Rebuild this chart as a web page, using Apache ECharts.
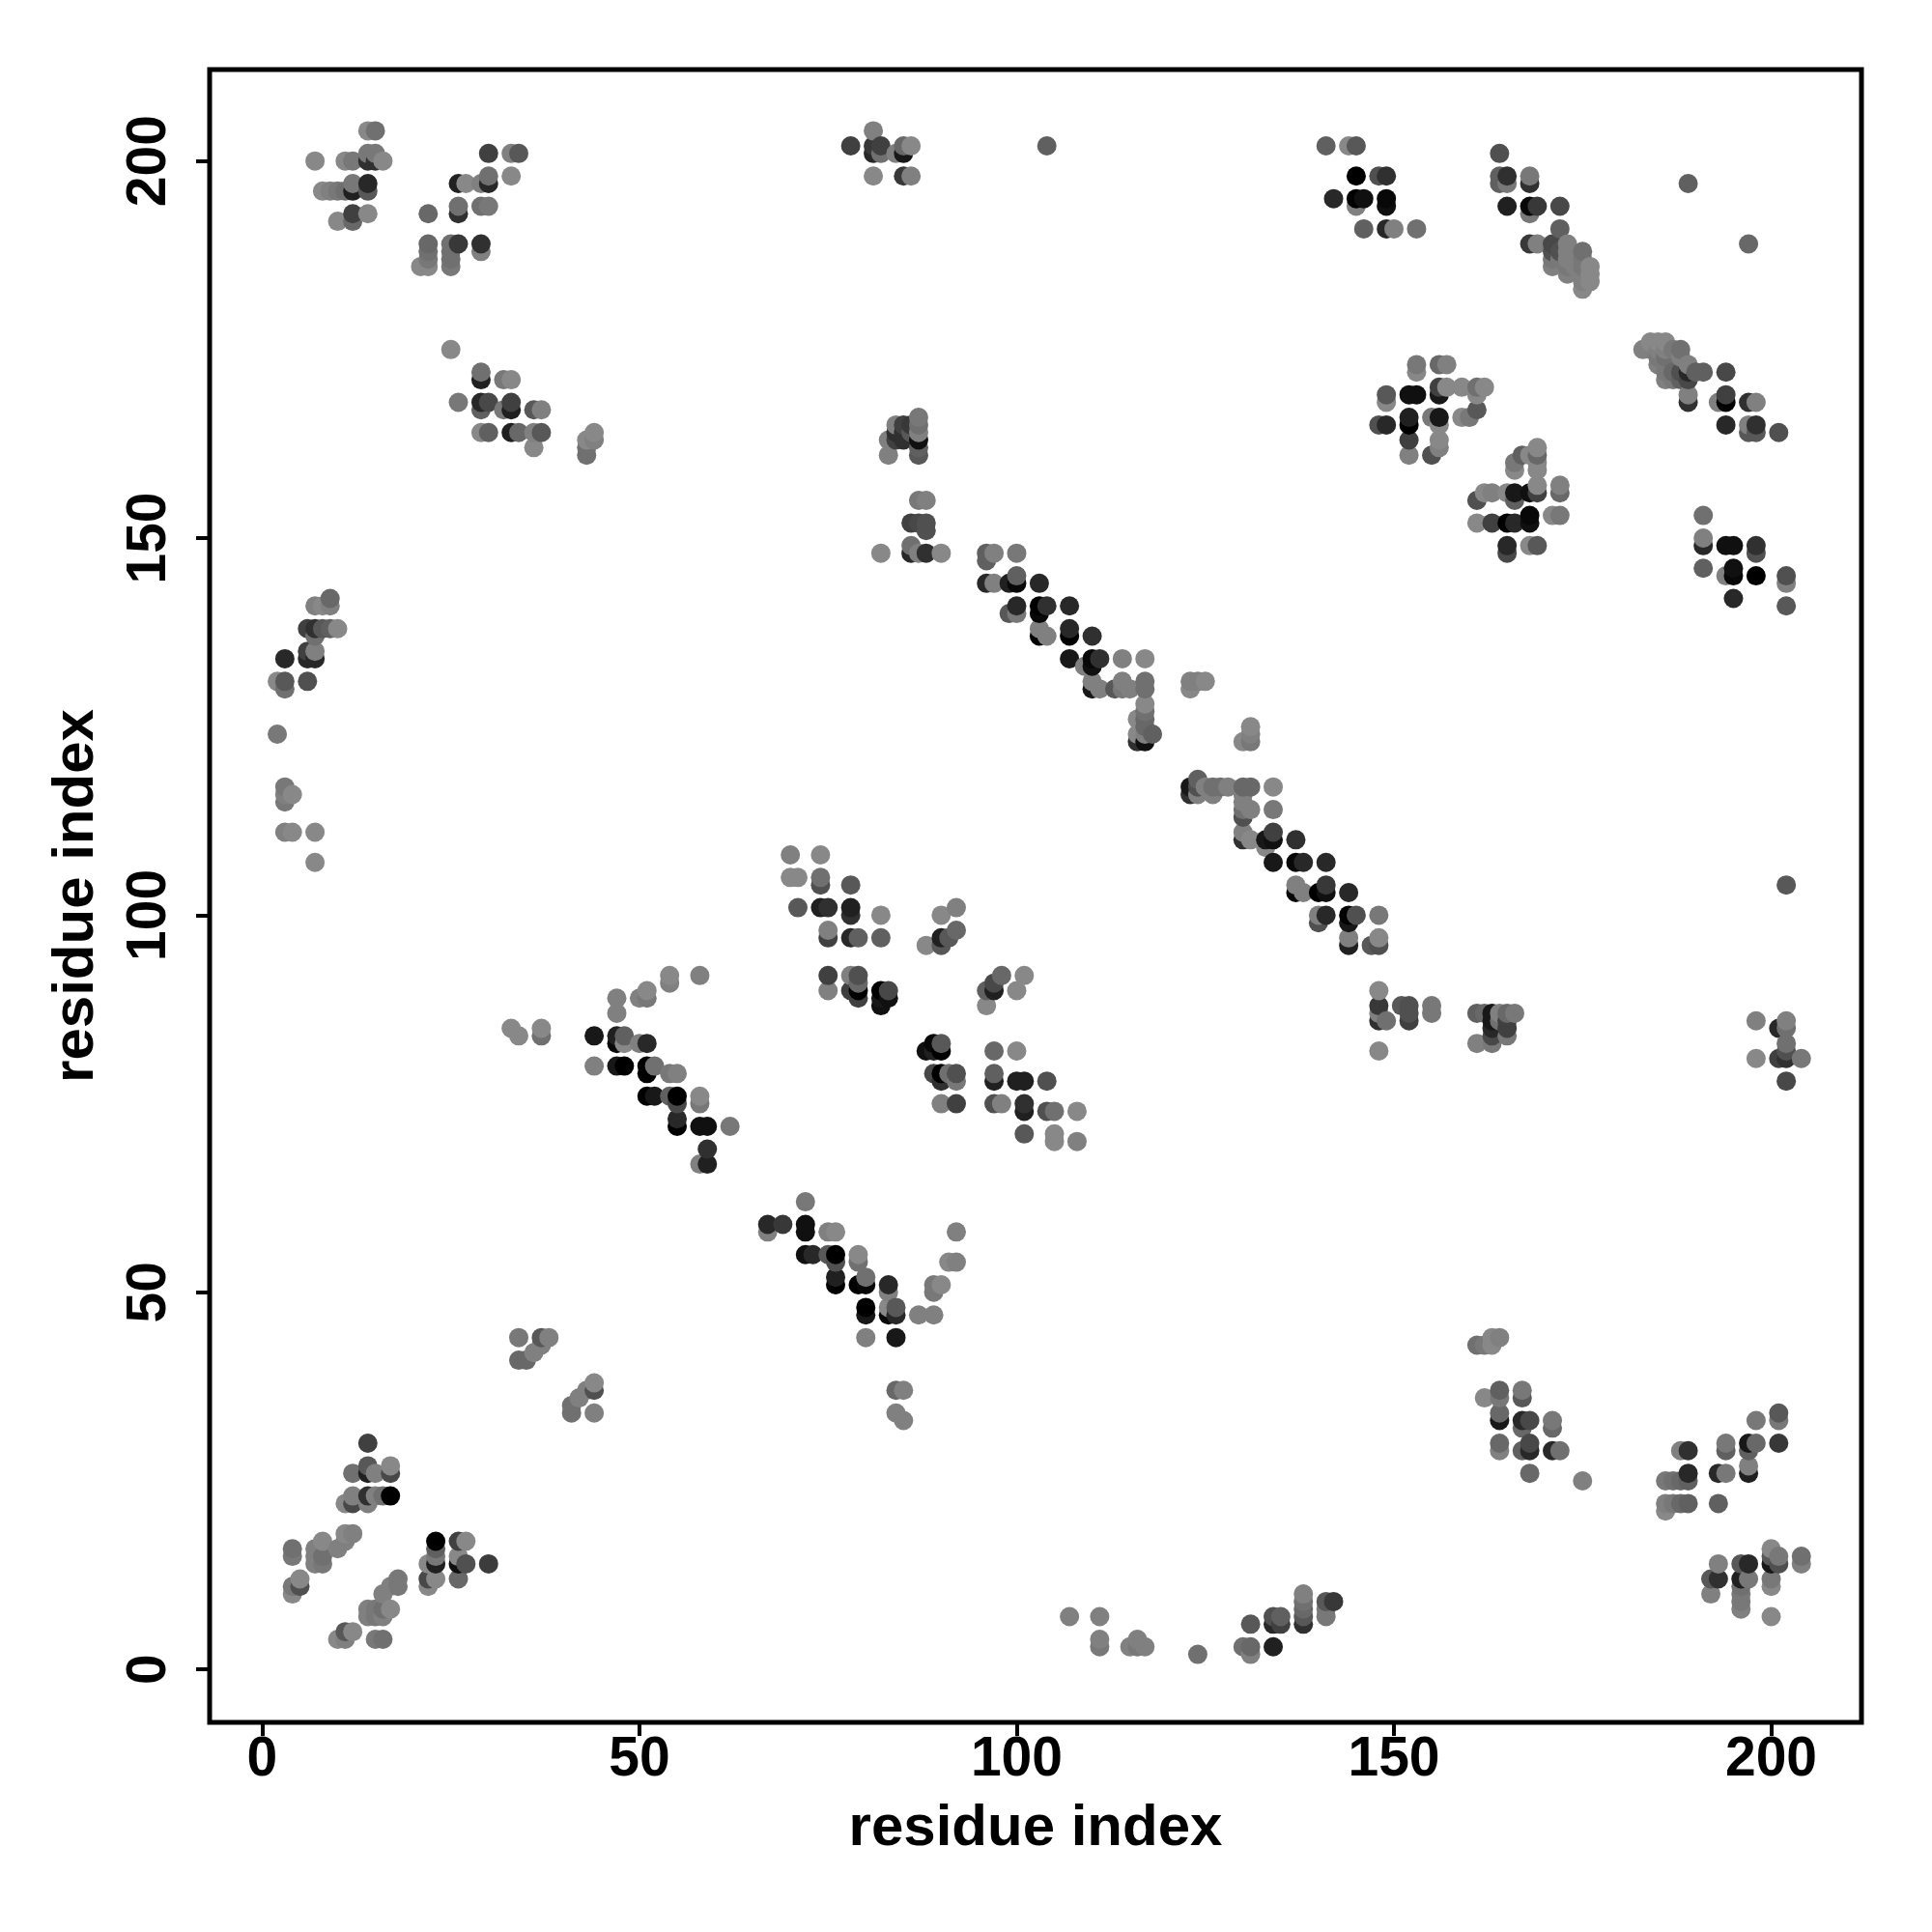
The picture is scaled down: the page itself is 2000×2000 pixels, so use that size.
<!DOCTYPE html>
<html><head><meta charset="utf-8">
<style>html,body{margin:0;padding:0;background:#fff}#c{width:2000px;height:2000px}</style>
<script src="https://cdn.jsdelivr.net/npm/echarts@6/dist/echarts.min.js"></script></head>
<body><div id="c"></div>
<script>
const xTickLabels=[0,50,100,150,200];
const yTickLabels=[0,50,100,150,200];
const xTitle="residue index", yTitle="residue index";
// each entry: [residue x, residue y, grey level]
const bottomLeft=[[14,30,0x40],[14,27,0x58],[12,26,0x70],[14,26,0x20],[15,26,0x80],[17,27,0x88],[17,26,0x48],[12,23,0x80],[12,22,0x48],[11,22,0x88],[14,23,0x30],[14,22,0x80],[15,23,0x80],[16,23,0x70],[17,23,0x00],
[4,16,0x70],[4,15,0x78],[7,16,0x80],[7,15,0x80],[7,14,0x80],[8,17,0x88],[8,15,0x70],[8,14,0x78],[10,16,0x80],[11,18,0x88],[11,17,0x80],[12,18,0x80],[4,10,0x88],[4,11,0x78],[5,11,0x50],[5,12,0x88],
[18,12,0x78],[18,11,0x78],[17,11,0x80],[16,10,0x80],[17,8,0x88],[16,8,0x70],[16,7,0x80],[15,8,0x78],[15,7,0x78],[14,8,0x80],[14,7,0x80],[10,4,0x88],[11,4,0x80],[11,5,0x58],[12,5,0x88],[15,4,0x78],[16,4,0x70],
[23,17,0x00],[23,16,0x60],[23,15,0x78],[23,14,0x20],[22,14,0x88],[22,12,0x48],[22,11,0x88],[23,12,0x88],[26,17,0x40],[27,17,0x88],[26,15,0x88],[26,14,0x10],[27,14,0x50],[30,14,0x3c],[26,12,0x68]];
const topLeft=[[14,204,0x88],[15,204,0x70],[7,200,0x88],[11,200,0x88],[12,200,0x78],[14,201,0x78],[14,200,0x30],[15,201,0x78],[15,200,0x30],[16,200,0x88],[8,196,0x88],[9,196,0x80],[10,196,0x78],[11,196,0x70],[12,196,0x20],[12,197,0x78],[14,197,0x28],[14,196,0x58],[10,192,0x88],[12,193,0x40],[12,192,0x68],[14,193,0x88],
[30,201,0x40],[33,201,0x80],[34,201,0x58],[30,198,0x70],[30,197,0x28],[33,198,0x88],[26,197,0x20],[27,197,0x88],[29,197,0x80],[26,194,0x70],[26,193,0x30],[22,193,0x68],[29,194,0x70],[30,194,0x78],[22,189,0x68],[22,188,0x70],[22,187,0x78],[22,186,0x88],[21,186,0x88],[25,189,0x70],[25,188,0x70],[25,187,0x70],[25,186,0x78],[26,189,0x38],[29,189,0x30],[29,188,0x80],
[25,175,0x88],[29,172,0x70],[29,171,0x20],[32,171,0x78],[33,171,0x88],[26,168,0x78],[29,168,0x28],[29,167,0x60],[30,168,0x48],[33,168,0x40],[33,167,0x20],[32,167,0x78],[36,167,0x58],[37,167,0x80],[29,164,0x88],[30,164,0x60],[33,164,0x20],[34,164,0x68],[36,164,0x80],[37,164,0x58],[36,162,0x88],[44,164,0x88],[44,163,0x80],[43,163,0x88],[43,162,0x70],[43,161,0x70]];
const midLeft=[[9,142,0x68],[7,141,0x80],[8,141,0x88],[9,141,0x80],[6,138,0x40],[7,138,0x30],[8,138,0x58],[9,138,0x60],[10,138,0x88],[7,137,0x70],[6,135,0x40],[7,135,0x80],[6,134,0x28],[7,134,0x28],[3,134,0x28],[2,131,0x88],[3,131,0x58],[3,130,0x70],[6,131,0x50],[2,124,0x78],[3,117,0x78],[3,116,0x80],[3,115,0x78],[4,116,0x88],[3,111,0x80],[4,111,0x88],[7,111,0x88],[7,107,0x88]];
const strandA=[[54,92,0x88],[54,91,0x80],[58,92,0x80],[51,90,0x88],[51,89,0x78],[50,89,0x80],[47,89,0x80],[47,87,0x80],[33,85,0x88],[34,84,0x88],[37,85,0x88],[37,84,0x70],[44,84,0x18],[47,84,0x20],[47,83,0x08],[48,84,0x60],[48,83,0x88],[50,83,0x80],[51,83,0x28],[44,80,0x80],[47,80,0x18],[48,80,0x00],[51,80,0x00],[51,79,0x00],[52,80,0x70],[54,79,0x78],[55,79,0x80],[51,76,0x00],[52,76,0x18],[54,76,0x60],[55,76,0x00],[55,75,0x48],[58,76,0x88],[58,75,0x78],[55,73,0x28],[55,72,0x00],[58,72,0x10],[59,72,0x10],[62,72,0x78],[59,69,0x30],[58,67,0x80],[59,67,0x20],
[34,44,0x78],[37,44,0x58],[38,44,0x80],[37,43,0x80],[36,42,0x80],[34,41,0x68],[35,41,0x68],[44,38,0x88],[44,37,0x50],[43,37,0x80],[42,36,0x80],[41,35,0x70],[41,34,0x70],[44,34,0x80]];
const centerUpper=[[70,108,0x80],[74,108,0x88],[70,105,0x88],[71,105,0x88],[74,105,0x70],[74,104,0x50],[78,104,0x58],[71,101,0x58],[74,101,0x20],[75,101,0x30],[78,101,0x20],[78,100,0x30],[82,100,0x88],[75,98,0x80],[75,97,0x40],[78,97,0x28],[79,97,0x60],[82,97,0x60],[90,100,0x88],[92,101,0x80],[92,98,0x68],[90,97,0x20],[91,97,0x58],[88,96,0x88],[90,96,0x58],
[75,92,0x40],[78,92,0x80],[79,92,0x50],[79,91,0x68],[79,90,0x00],[75,90,0x80],[78,90,0x40],[79,89,0x40],[82,90,0x00],[82,89,0x18],[82,88,0x10],[83,90,0x48],[83,89,0x10],[98,92,0x68],[101,92,0x88],[97,91,0x48],[100,90,0x88],[96,90,0x60],[97,90,0x20],[96,88,0x88],[97,82,0x68],[100,82,0x88],[88,82,0x10],[89,83,0x08],[90,83,0x58],[89,82,0x20],[90,82,0x00],[89,79,0x48],[90,79,0x00],[91,79,0x70],[92,79,0x50],[90,78,0x30],[92,78,0x78],[97,79,0x60],[97,78,0x20],[100,78,0x20],[101,78,0x20],[104,78,0x50],[90,75,0x80],[92,75,0x40],[97,75,0x50],[98,75,0x80],[101,75,0x30],[101,74,0x20],[104,74,0x50],[105,74,0x70],[108,74,0x88],[101,71,0x58],[105,71,0x88],[105,70,0x88],[108,70,0x80]];
const centerLower=[[67,59,0x28],[67,58,0x80],[69,59,0x38],[72,62,0x78],[72,59,0x10],[72,58,0x10],[75,58,0x80],[76,58,0x88],[72,55,0x10],[73,55,0x28],[75,55,0x58],[76,55,0x00],[76,54,0x50],[79,55,0x88],[79,54,0x70],[76,52,0x20],[76,51,0x00],[79,51,0x00],[80,52,0x70],[80,51,0x08],[83,51,0x28],[83,50,0x80],[80,48,0x00],[80,47,0x18],[83,48,0x88],[83,47,0x08],[84,48,0x58],[84,47,0x28],[87,47,0x80],[89,47,0x80],[89,50,0x78],[89,51,0x78],[90,51,0x88],[91,54,0x88],[92,54,0x80],[92,58,0x80],[80,44,0x80],[84,44,0x18],[84,37,0x68],[85,37,0x80],[84,34,0x80],[85,33,0x80]];
const topCenter=[[81,204,0x80],[78,202,0x40],[81,202,0x38],[82,202,0x40],[81,201,0x28],[82,201,0x70],[84,201,0x80],[85,202,0x68],[85,201,0x18],[86,202,0x88],[81,198,0x88],[85,198,0x38],[86,198,0x80],[104,202,0x60],
[87,166,0x78],[87,165,0x70],[87,164,0x80],[87,163,0x10],[87,162,0x60],[87,161,0x58],[84,165,0x80],[85,165,0x40],[86,165,0x38],[83,163,0x80],[84,163,0x40],[85,163,0x30],[86,164,0x58],[84,164,0x30],[85,164,0x30],[83,161,0x80],[87,155,0x78],[88,155,0x80],[86,152,0x40],[87,152,0x48],[88,152,0x50],[88,151,0x50],[86,149,0x70],[86,148,0x28],[87,148,0x80],[88,148,0x30],[90,148,0x88],[82,148,0x88]];
const diagonalUpper=[[96,148,0x60],[96,147,0x60],[97,148,0x80],[100,148,0x78],[96,144,0x28],[97,144,0x80],[99,144,0x20],[100,145,0x60],[100,144,0x08],[103,144,0x28],[100,141,0x28],[99,140,0x58],[100,140,0x78],[103,141,0x00],[103,140,0x08],[104,141,0x30],[107,141,0x28],[103,138,0x80],[103,137,0x00],[104,137,0x80],[107,138,0x28],[107,137,0x00],[110,137,0x30],[107,134,0x18],[110,134,0x08],[111,134,0x30],[110,133,0x10],[109,133,0x80],[114,134,0x80],[117,134,0x88],[110,131,0x80],[110,130,0x18],[111,130,0x80],[113,130,0x58],[114,131,0x80],[114,130,0x78],[115,130,0x80],[117,131,0x70],[117,130,0x70],[117,128,0x88],[117,127,0x70],[116,126,0x88],[117,126,0x68],[116,124,0x88],[117,125,0x68],[116,123,0x30],[117,124,0x80],[117,123,0x10],[118,124,0x60],[123,131,0x80],[124,131,0x80],[125,131,0x88],[123,130,0x88],[131,125,0x88],[131,124,0x80],[131,123,0x78],[130,123,0x88],[124,118,0x60],[123,117,0x18],[124,117,0x50],[125,117,0x80],[126,117,0x70],[127,117,0x70],[128,117,0x80],[130,117,0x68],[131,117,0x68],[134,117,0x88],[123,116,0x30],[124,116,0x80],[126,116,0x80],[130,116,0x80],[130,115,0x80],[130,114,0x70],[131,114,0x80],[134,114,0x78],[130,113,0x50]];
const diagonalLower=[[130,111,0x80],[130,110,0x30],[131,110,0x88],[133,110,0x18],[133,109,0x88],[134,111,0x40],[134,110,0x10],[137,110,0x30],[134,107,0x18],[137,107,0x08],[138,107,0x28],[141,107,0x28],[137,104,0x80],[137,103,0x08],[138,103,0x80],[140,103,0x00],[141,104,0x38],[141,103,0x10],[144,103,0x28],[140,100,0x80],[140,99,0x50],[141,100,0x28],[144,100,0x00],[144,99,0x18],[145,100,0x50],[148,100,0x78],[144,97,0x80],[144,96,0x20],[147,96,0x58],[148,97,0x88],[148,96,0x50],[148,90,0x88],[148,88,0x38],[148,87,0x80],[148,86,0x30],[149,86,0x70],[151,88,0x58],[152,88,0x50],[152,87,0x50],[152,86,0x40],[155,88,0x78],[155,87,0x78],[148,82,0x88],
[161,87,0x60],[162,87,0x68],[163,87,0x18],[163,86,0x18],[163,85,0x28],[163,84,0x48],[163,83,0x78],[161,83,0x80],[164,87,0x80],[164,86,0x70],[165,87,0x68],[165,86,0x40],[165,85,0x40],[165,84,0x78],[166,87,0x78]];
const rightMid=[[153,173,0x78],[153,172,0x88],[156,173,0x68],[157,173,0x80],[149,169,0x58],[149,168,0x88],[152,169,0x10],[153,169,0x10],[156,170,0x40],[156,169,0x18],[157,170,0x88],[159,170,0x88],[161,170,0x70],[162,170,0x88],[161,169,0x88],[161,167,0x58],[159,166,0x88],[160,166,0x78],[148,165,0x50],[149,165,0x28],[152,166,0x20],[152,165,0x00],[152,163,0x40],[152,161,0x80],[155,166,0x78],[156,166,0x18],[156,165,0x88],[156,163,0x88],[156,162,0x80],[155,161,0x50],
[167,161,0x60],[166,160,0x78],[166,159,0x88],[168,161,0x88],[169,162,0x88],[169,161,0x68],[169,160,0x88],[169,159,0x88],[161,155,0x50],[162,156,0x88],[163,156,0x80],[165,156,0x88],[166,156,0x18],[166,155,0x60],[168,156,0x10],[169,157,0x88],[169,156,0x40],[172,157,0x80],[172,156,0x68],[161,152,0x88],[163,152,0x40],[165,152,0x00],[166,152,0x28],[168,153,0x08],[168,152,0x10],[171,153,0x88],[172,153,0x78],[165,149,0x28],[165,148,0x48],[168,149,0x88],[169,149,0x58]];
const topRight=[[164,201,0x50],[164,198,0x60],[164,197,0x60],[165,198,0x30],[165,197,0x78],[168,198,0x78],[168,197,0x30],[165,194,0x20],[168,194,0x08],[168,193,0x78],[169,194,0x38],[172,194,0x48],[172,191,0x60],[168,189,0x38],[169,189,0x80],[171,189,0x48],[171,188,0x50],[171,187,0x78],[171,186,0x80],[172,188,0x50],[172,187,0x78],[173,189,0x80],[173,188,0x80],[173,187,0x80],[173,186,0x78],[173,185,0x80],[174,187,0x80],[174,186,0x80],[175,188,0x70],[175,187,0x78],[175,186,0x78],[175,185,0x80],[175,184,0x80],[175,183,0x88],[176,186,0x88],[176,185,0x88],[176,184,0x88],
[141,202,0x60],[144,202,0x88],[145,202,0x58],[145,198,0x00],[148,198,0x50],[149,198,0x30],[142,195,0x28],[145,195,0x00],[146,195,0x10],[149,195,0x08],[149,194,0x10],[145,194,0x80],[146,191,0x60],[149,191,0x28],[150,191,0x80],[153,191,0x70],[189,197,0x60],[197,189,0x68]];
const rightUpper=[[183,175,0x80],[184,176,0x88],[185,176,0x88],[186,176,0x88],[184,175,0x80],[185,175,0x80],[186,175,0x80],[187,175,0x78],[188,175,0x70],[185,174,0x78],[185,173,0x80],[186,174,0x70],[186,173,0x78],[186,172,0x78],[186,171,0x80],[187,172,0x68],[187,171,0x78],[188,174,0x80],[188,172,0x50],[188,171,0x60],[189,173,0x80],[189,172,0x28],[189,171,0x48],[190,172,0x60],[191,172,0x60],[194,172,0x48],[189,169,0x80],[189,168,0x30],[193,168,0x80],[194,169,0x40],[194,168,0x00],[197,168,0x30],[198,168,0x80],[194,165,0x28],[197,165,0x80],[197,164,0x58],[198,165,0x30],[198,164,0x58],[201,164,0x50],
[191,153,0x70],[191,150,0x80],[191,149,0x28],[194,149,0x10],[195,149,0x10],[198,149,0x30],[198,148,0x50],[191,146,0x60],[195,146,0x10],[195,145,0x08],[194,145,0x80],[198,145,0x00],[202,145,0x50],[202,144,0x80],[195,142,0x28],[202,141,0x58]];
const bottomRight=[[161,43,0x70],[162,43,0x78],[163,43,0x88],[163,44,0x88],[164,44,0x80],[162,36,0x88],[164,37,0x60],[164,36,0x78],[167,37,0x78],[167,36,0x58],[164,34,0x68],[164,33,0x18],[167,33,0x28],[168,33,0x48],[167,32,0x68],[171,33,0x78],[171,32,0x68],[164,30,0x68],[164,29,0x80],[167,29,0x60],[168,30,0x48],[168,29,0x28],[171,29,0x28],[172,29,0x70],[168,26,0x68],[175,25,0x80],
[188,29,0x80],[189,29,0x30],[186,25,0x78],[187,25,0x70],[188,25,0x68],[189,26,0x28],[189,25,0x60],[193,26,0x28],[194,26,0x78],[186,22,0x80],[186,21,0x88],[187,22,0x78],[188,22,0x68],[189,22,0x60],[193,22,0x60],[194,30,0x78],[194,29,0x60],[197,30,0x18],[197,29,0x60],[198,30,0x68],[197,27,0x80],[197,26,0x20],[198,33,0x78],[201,34,0x58],[201,33,0x78],[201,30,0x38],
[193,14,0x80],[192,12,0x58],[193,12,0x30],[192,10,0x80],[196,14,0x58],[197,14,0x28],[196,12,0x20],[197,12,0x78],[196,11,0x70],[196,10,0x78],[196,9,0x78],[196,8,0x80],[200,16,0x88],[200,15,0x58],[200,14,0x18],[201,15,0x78],[201,14,0x50],[200,12,0x78],[200,11,0x88],[200,7,0x88],[204,15,0x70],[204,14,0x80]];
const bottomMiddle=[[107,7,0x80],[111,7,0x80],[111,4,0x80],[111,3,0x78],[115,3,0x80],[116,4,0x80],[116,3,0x78],[117,3,0x80],[124,2,0x70],[130,3,0x70],[131,3,0x68],[131,2,0x80],[131,6,0x58],[134,3,0x20],[134,6,0x28],[134,7,0x50],[135,7,0x60],[135,6,0x40],[138,6,0x30],[138,7,0x58],[138,8,0x68],[138,9,0x70],[138,10,0x80],[141,7,0x78],[141,9,0x58],[142,9,0x38],[141,8,0x78]];
const rightEdge=[[198,86,0x80],[198,81,0x88],[201,85,0x28],[202,86,0x80],[202,85,0x70],[201,81,0x40],[202,83,0x70],[202,82,0x50],[202,81,0x30],[202,78,0x48],[204,81,0x78],[202,104,0x58]];

const contacts=[].concat(bottomLeft,topLeft,midLeft,strandA,centerUpper,centerLower,topCenter,diagonalUpper,diagonalLower,rightMid,topRight,rightUpper,bottomRight,bottomMiddle,rightEdge)
  .sort((a,b)=>a[0]-b[0]||a[1]-b[1]);

const font='"Liberation Sans", Arial, sans-serif';
const chart=echarts.init(document.getElementById('c'),null,{renderer:'canvas'});
const axisCommon={
  type:'value',
  min:-6.97,max:211.97,
  nameLocation:'middle',
  nameMoveOverlap:false,
  nameTextStyle:{fontFamily:font,fontWeight:'bold',fontSize:60,color:'#000'},
  axisLine:{show:false,onZero:false},
  splitLine:{show:false},
  axisTick:{show:true,length:14,lineStyle:{color:'#000',width:4},customValues:xTickLabels},
};
chart.setOption({
  animation:false,
  backgroundColor:'#fff',
  grid:{left:217,right:73,top:72,bottom:217,show:true,borderColor:'#000',borderWidth:5,backgroundColor:'transparent'},
  xAxis:Object.assign({},axisCommon,{name:xTitle,nameGap:80,
    axisLabel:{fontFamily:font,fontWeight:'bold',fontSize:57,color:'#000',margin:11,customValues:xTickLabels}}),
  yAxis:Object.assign({},axisCommon,{name:yTitle,nameGap:108,min:-7.02,max:212.12,nameRotate:90,
    axisTick:{show:true,length:14,lineStyle:{color:'#000',width:4},customValues:yTickLabels},
    axisLabel:{fontFamily:font,fontWeight:'bold',fontSize:57,color:'#000',margin:33,rotate:90,align:'center',verticalAlign:'bottom',customValues:yTickLabels}}),
  series:[{
    type:'scatter',
    symbol:'circle',symbolSize:20,
    data:contacts,
    encode:{x:0,y:1},
    itemStyle:{opacity:1,color:p=>{const g=p.value[2];return `rgb(${g},${g},${g})`;}}
  }]
});
</script></body></html>
